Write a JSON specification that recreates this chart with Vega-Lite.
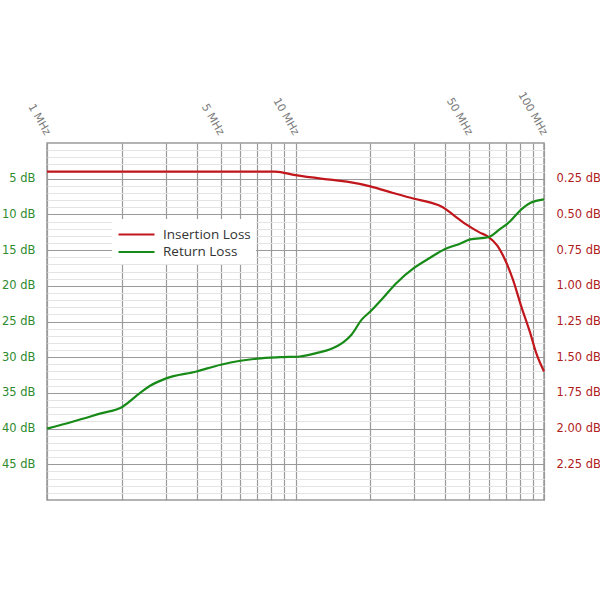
{
  "$schema": "https://vega.github.io/schema/vega-lite/v6.json",
  "width": 497,
  "height": 357,
  "autosize": "none",
  "padding": {"left": 47, "top": 143, "right": 56, "bottom": 100},
  "background": "white",
  "config": {
    "view": {"stroke": "#9a9a9a", "strokeWidth": 1.5},
    "font": "DejaVu Sans"
  },
  "data": {
    "values": [
      {"series": "Insertion Loss", "f": 1, "v": 0.2},
      {"series": "Insertion Loss", "f": 8.3, "v": 0.2},
      {"series": "Insertion Loss", "f": 10, "v": 0.225},
      {"series": "Insertion Loss", "f": 13.8, "v": 0.257},
      {"series": "Insertion Loss", "f": 16.1, "v": 0.271},
      {"series": "Insertion Loss", "f": 20, "v": 0.304},
      {"series": "Insertion Loss", "f": 24.7, "v": 0.35},
      {"series": "Insertion Loss", "f": 30, "v": 0.39},
      {"series": "Insertion Loss", "f": 34.7, "v": 0.416},
      {"series": "Insertion Loss", "f": 39, "v": 0.448},
      {"series": "Insertion Loss", "f": 43, "v": 0.502},
      {"series": "Insertion Loss", "f": 48.8, "v": 0.572},
      {"series": "Insertion Loss", "f": 55, "v": 0.626},
      {"series": "Insertion Loss", "f": 59.5, "v": 0.655},
      {"series": "Insertion Loss", "f": 65, "v": 0.72},
      {"series": "Insertion Loss", "f": 68.5, "v": 0.79},
      {"series": "Insertion Loss", "f": 75, "v": 0.957},
      {"series": "Insertion Loss", "f": 81, "v": 1.144},
      {"series": "Insertion Loss", "f": 88, "v": 1.33},
      {"series": "Insertion Loss", "f": 93, "v": 1.47},
      {"series": "Insertion Loss", "f": 100, "v": 1.6},
      {"series": "Return Loss", "f": 1, "v": 40.0},
      {"series": "Return Loss", "f": 1.276, "v": 39.0},
      {"series": "Return Loss", "f": 1.634, "v": 37.9},
      {"series": "Return Loss", "f": 2.0, "v": 37.0},
      {"series": "Return Loss", "f": 2.37, "v": 35.0},
      {"series": "Return Loss", "f": 2.6, "v": 34.0},
      {"series": "Return Loss", "f": 3.0, "v": 33.0},
      {"series": "Return Loss", "f": 4.0, "v": 32.0},
      {"series": "Return Loss", "f": 5.0, "v": 31.05},
      {"series": "Return Loss", "f": 6.0, "v": 30.5},
      {"series": "Return Loss", "f": 7.0, "v": 30.2},
      {"series": "Return Loss", "f": 8.67, "v": 30.0},
      {"series": "Return Loss", "f": 10.4, "v": 29.9},
      {"series": "Return Loss", "f": 12.2, "v": 29.4},
      {"series": "Return Loss", "f": 13.8, "v": 28.9},
      {"series": "Return Loss", "f": 15.6, "v": 27.9},
      {"series": "Return Loss", "f": 16.8, "v": 26.85},
      {"series": "Return Loss", "f": 18.5, "v": 24.7},
      {"series": "Return Loss", "f": 20, "v": 23.6},
      {"series": "Return Loss", "f": 22.5, "v": 21.7},
      {"series": "Return Loss", "f": 25.5, "v": 19.6},
      {"series": "Return Loss", "f": 30, "v": 17.5},
      {"series": "Return Loss", "f": 34.7, "v": 16.1},
      {"series": "Return Loss", "f": 40, "v": 14.85},
      {"series": "Return Loss", "f": 45.9, "v": 14.1},
      {"series": "Return Loss", "f": 50.5, "v": 13.5},
      {"series": "Return Loss", "f": 59.5, "v": 13.2},
      {"series": "Return Loss", "f": 66.3, "v": 12.1},
      {"series": "Return Loss", "f": 72.9, "v": 11.0},
      {"series": "Return Loss", "f": 80.2, "v": 9.45},
      {"series": "Return Loss", "f": 88, "v": 8.4},
      {"series": "Return Loss", "f": 100, "v": 7.9}
    ]
  },
  "encoding": {
    "x": {
      "field": "f",
      "type": "quantitative",
      "scale": {"type": "log", "domain": [1, 100], "nice": false},
      "axis": {
        "orient": "top",
        "title": null,
        "values": [1, 2, 3, 4, 5, 6, 7, 8, 9, 10, 20, 30, 40, 50, 60, 70, 80, 90, 100],
        "labelExpr": "indexof([1,5,10,50,100], datum.value) >= 0 ? datum.value + ' MHz' : ''",
        "labelAngle": 60,
        "labelAlign": "right",
        "labelBaseline": "middle",
        "labelPadding": 9,
        "labelFontSize": 11,
        "labelColor": "#7a7a7a",
        "labelOverlap": false,
        "labelFlush": false,
        "ticks": false,
        "domain": false,
        "grid": true,
        "gridColor": "#9a9a9a",
        "gridWidth": 1.2
      }
    },
    "color": {
      "field": "series",
      "type": "nominal",
      "scale": {"domain": ["Insertion Loss", "Return Loss"], "range": ["#c0161c", "#178a17"]},
      "legend": {
        "title": null,
        "orient": "none",
        "legendX": 65,
        "legendY": 76,
        "fillColor": "white",
        "padding": 5,
        "symbolType": "M-1,0L3,0",
        "symbolSize": 324,
        "symbolStrokeWidth": 2.2,
        "labelFont": "Open Sans",
        "labelFontSize": 13.5,
        "labelColor": "#333333",
        "labelOffset": 25,
        "rowPadding": 0.5
      }
    }
  },
  "layer": [
    {
      "transform": [{"filter": "datum.series == 'Insertion Loss'"}],
      "mark": {"type": "line", "strokeWidth": 2.2, "interpolate": "monotone"},
      "encoding": {
        "y": {
          "field": "v",
          "type": "quantitative",
          "scale": {"domain": [0, 2.5], "reverse": true, "nice": false, "zero": false},
          "axis": {
            "orient": "right",
            "title": null,
            "values": [0.05, 0.1, 0.15, 0.2, 0.25, 0.3, 0.35, 0.4, 0.45, 0.5, 0.55, 0.6, 0.65, 0.7, 0.75, 0.8, 0.85, 0.9, 0.95, 1, 1.05, 1.1, 1.15, 1.2, 1.25, 1.3, 1.35, 1.4, 1.45, 1.5, 1.55, 1.6, 1.65, 1.7, 1.75, 1.8, 1.85, 1.9, 1.95, 2, 2.05, 2.1, 2.15, 2.2, 2.25, 2.3, 2.35, 2.4, 2.45],
            "labelExpr": "abs(datum.value*4 - round(datum.value*4)) < 0.001 ? format(datum.value, '.2f') + ' dB' : ''",
            "labelColor": "#b0201c",
            "labelFontSize": 11.5,
            "labelPadding": 12,
            "ticks": false,
            "domain": false,
            "grid": true,
            "gridColor": {
              "condition": {"test": "abs(datum.value*4 - round(datum.value*4)) < 0.001", "value": "#9a9a9a"},
              "value": "#e4e4e4"
            },
            "gridWidth": 1.2
          }
        }
      }
    },
    {
      "transform": [{"filter": "datum.series == 'Return Loss'"}],
      "mark": {"type": "line", "strokeWidth": 2.2, "interpolate": "monotone"},
      "encoding": {
        "y": {
          "field": "v",
          "type": "quantitative",
          "scale": {"domain": [0, 50], "reverse": true, "nice": false, "zero": false},
          "axis": {
            "orient": "left",
            "title": null,
            "values": [5, 10, 15, 20, 25, 30, 35, 40, 45],
            "labelExpr": "datum.value + ' dB'",
            "labelColor": "#2e8b2e",
            "labelFontSize": 11.5,
            "labelPadding": 12,
            "ticks": false,
            "domain": false,
            "grid": false
          }
        }
      }
    }
  ],
  "resolve": {"scale": {"y": "independent"}}
}
